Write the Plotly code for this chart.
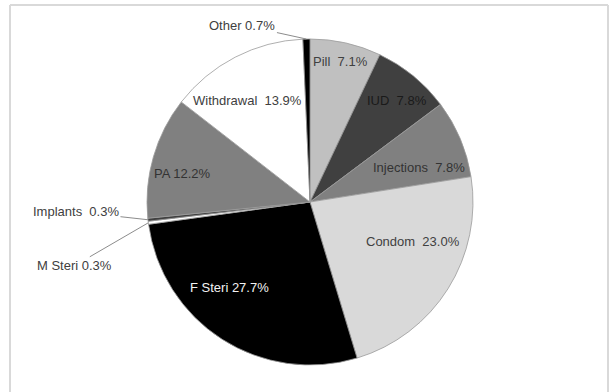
import math
import plotly.graph_objects as go

# ---- data (clockwise from 12 o'clock) ----
methods = ["Pill", "IUD", "Injections", "Condom", "F Steri",
           "M Steri", "Implants", "PA", "Withdrawal", "Other"]
shares = [7.1, 7.8, 7.8, 23.0, 27.7, 0.3, 0.3, 12.2, 13.9, 0.7]
label_texts = ["Pill  7.1%", "IUD  7.8%", "Injections  7.8%",
               "Condom  23.0%", "F Steri 27.7%", "M Steri 0.3%",
               "Implants  0.3%", "PA 12.2%", "Withdrawal  13.9%", "Other 0.7%"]

# ---- styles ----
colors = ["#c0c0c0", "#404040", "#808080", "#d9d9d9", "#000000",
          "#ffffff", "#404040", "#808080", "#ffffff", "#000000"]
text_colors = ["#404040", "#1a1a1a", "#333333", "#404040", "#f2f2f2",
               "#404040", "#404040", "#333333", "#404040", "#404040"]
# label placement: (angle offset from slice middle in deg, radial fraction) or outside offset in px
inside_place = {0: (-0.3, 0.88), 1: (1.6, 0.82), 2: (5.3, 0.70), 3: (-11.1, 0.68),
                4: (10.5, 0.72), 7: (-3.6, 0.80), 8: (-4.5, 0.73)}
outside_place = {9: (-64, -14), 5: (-74, 43), 6: (-72, -8)}

W, H = 612, 392
CX, CY, R = 310.0, 202.0, 163.0
FONT = "Liberation Sans, Arial, sans-serif"

fig = go.Figure(go.Pie(
    labels=methods, values=shares, sort=False, direction="clockwise", rotation=0,
    marker=dict(colors=colors, line=dict(color="#9a9a9a", width=0.8)),
    textinfo="none", hoverinfo="label+percent", showlegend=False,
    domain=dict(x=[(CX - R) / W, (CX + R) / W],
                y=[(H - CY - R) / H, (H - CY + R) / H]),
))

total = sum(shares)
annotations = []
cum = 0.0
for i, v in enumerate(shares):
    mid = (cum + v / 2) / total * 360.0
    cum += v
    if i in inside_place:
        d, f = inside_place[i]
        a = math.radians(mid + d)
        px = CX + f * R * math.sin(a)
        py = CY - f * R * math.cos(a)
        annotations.append(dict(x=px / W, y=1 - py / H, xref="paper", yref="paper",
                                xanchor="center", yanchor="middle",
                                text=label_texts[i], showarrow=False,
                                font=dict(family=FONT, size=13, color=text_colors[i])))
    else:
        a = math.radians(mid)
        px = CX + R * math.sin(a)
        py = CY - R * math.cos(a)
        ax, ay = outside_place[i]
        annotations.append(dict(x=px / W, y=1 - py / H, xref="paper", yref="paper",
                                xanchor="center", yanchor="middle",
                                text=label_texts[i], showarrow=True, arrowhead=0,
                                arrowwidth=1, arrowcolor="#8c8c8c", ax=ax, ay=ay,
                                standoff=0, startstandoff=0,
                                font=dict(family=FONT, size=13, color=text_colors[i])))

shapes = [
    dict(type="line", xref="paper", yref="paper", x0=10 / W, x1=10 / W, y0=1 - 5 / H, y1=-0.1,
         line=dict(color="#d9d9d9", width=2)),
    dict(type="line", xref="paper", yref="paper", x0=10 / W, x1=608 / W, y0=1 - 5 / H, y1=1 - 5 / H,
         line=dict(color="#d9d9d9", width=2)),
    dict(type="line", xref="paper", yref="paper", x0=608 / W, x1=608 / W, y0=1 - 5 / H, y1=-0.1,
         line=dict(color="#d9d9d9", width=2)),
]

fig.update_layout(
    width=W, height=H, margin=dict(l=0, r=0, t=0, b=0),
    paper_bgcolor="white", plot_bgcolor="white",
    annotations=annotations, shapes=shapes,
    font=dict(family=FONT, size=13, color="#404040"),
)

fig.write_html("out.html", config={"displayModeBar": False},
               post_script="document.body.style.margin='0';document.body.style.overflow='hidden';")
